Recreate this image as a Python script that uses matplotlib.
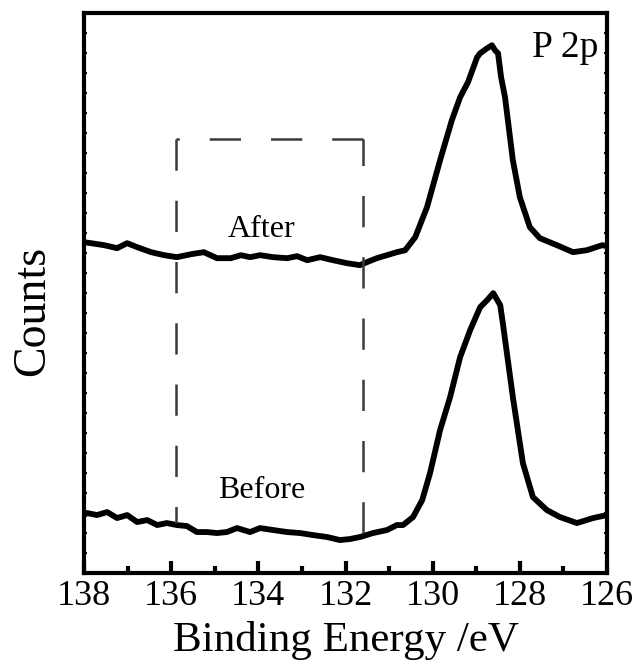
import matplotlib
matplotlib.use("Agg")
import matplotlib.pyplot as plt
from matplotlib.ticker import MultipleLocator

plt.rcParams['font.family'] = ['Liberation Serif', 'DejaVu Serif']

# binding energy (eV) and counts (arb. units)
AFTER_E = [138.0, 137.84, 137.54, 137.24, 137.01, 136.78, 136.46, 136.16, 135.87,
           135.54, 135.25, 134.95, 134.63, 134.40, 134.19, 133.96, 133.66,
           133.34, 133.11, 132.88, 132.58, 132.29, 131.97, 131.67, 131.51,
           131.28, 131.05, 130.82, 130.63, 130.40, 130.13, 129.83, 129.56,
           129.37, 129.19, 128.98, 128.91, 128.75, 128.64, 128.57, 128.50,
           128.43, 128.34, 128.16, 128.00, 127.77, 127.54, 127.15, 126.78,
           126.46, 126.11, 126.0]
AFTER_C = [331, 330, 328, 325, 330, 326, 321, 318, 316,
           319, 321, 315, 315, 318, 316, 318, 316,
           315, 317, 313, 316, 313, 310, 308, 311,
           315, 318, 321, 323, 336, 366, 413, 453,
           476, 491, 516, 520, 525, 528, 523, 520,
           496, 476, 413, 376, 346, 335, 328, 321,
           323, 328, 327]

BEFORE_E = [138.0, 137.93, 137.70, 137.47, 137.24, 137.01, 136.78, 136.55, 136.32,
            136.10, 135.87, 135.64, 135.41, 135.18, 134.95, 134.72, 134.49,
            134.19, 133.96, 133.66, 133.34, 133.04, 132.75, 132.42, 132.13,
            131.90, 131.67, 131.37, 131.05, 130.82, 130.68, 130.45, 130.24,
            130.06, 129.83, 129.60, 129.37, 129.14, 128.91, 128.75, 128.61,
            128.45, 128.39, 128.16, 127.93, 127.70, 127.38, 127.08, 126.69,
            126.32, 126.0]
BEFORE_C = [58, 60, 58, 61, 55, 58, 51, 53, 48,
            50, 48, 47, 41, 41, 40, 41, 45,
            41, 45, 43, 41, 40, 38, 36, 33,
            34, 36, 40, 43, 48, 48, 56, 73,
            100, 143, 176, 216, 243, 266, 273, 280,
            268, 250, 176, 110, 76, 63, 56, 50,
            55, 58]

# dashed box: left/right energies, top level, bottom ends
BOX_E = [131.6, 131.6, 135.9, 135.9]
BOX_C = [40, 434, 434, 50]

fig = plt.figure(figsize=(6.35, 6.64), dpi=100)
ax = fig.add_axes([0.1323, 0.137, 0.8236, 0.843])

ax.plot(AFTER_E, AFTER_C, color='black', lw=4.2, solid_joinstyle='round')
ax.plot(BEFORE_E, BEFORE_C, color='black', lw=4.2, solid_joinstyle='round')
dash = (0, (12.5, 12))
ax.plot(BOX_E[:2], BOX_C[:2], color='#3a3a3a', lw=1.8, linestyle=dash)
ax.plot(BOX_E[1:3], BOX_C[1:3], color='#3a3a3a', lw=1.8, linestyle=dash)
ax.plot(BOX_E[2:], BOX_C[2:], color='#3a3a3a', lw=1.8, linestyle=dash)

ax.text(133.92, 336, 'After', fontsize=23, ha='center', va='baseline')
ax.text(133.92, 75, 'Before', fontsize=23, ha='center', va='baseline')
ax.text(126.2, 516, 'P 2p', fontsize=27, ha='right', va='baseline')

ax.set_xlim(138, 126)
ax.set_ylim(0, 560)
ax.xaxis.set_major_locator(MultipleLocator(2))
ax.xaxis.set_minor_locator(MultipleLocator(1))
ax.yaxis.set_major_locator(MultipleLocator(20))
ax.tick_params(axis='x', which='major', direction='in', length=9, width=3,
               labelsize=26, pad=5)
ax.tick_params(axis='x', which='minor', direction='in', length=5, width=3)
ax.tick_params(axis='y', which='major', direction='in', length=2, width=1.5,
               left=True, right=True, labelleft=False)
for s in ax.spines.values():
    s.set_linewidth(3)

ax.set_xlabel('Binding Energy /eV', fontsize=31, labelpad=6)
ax.set_ylabel('Counts', fontsize=33)
ax.yaxis.set_label_coords(-0.058, 0.468)

fig.savefig('out.png', dpi=100)
